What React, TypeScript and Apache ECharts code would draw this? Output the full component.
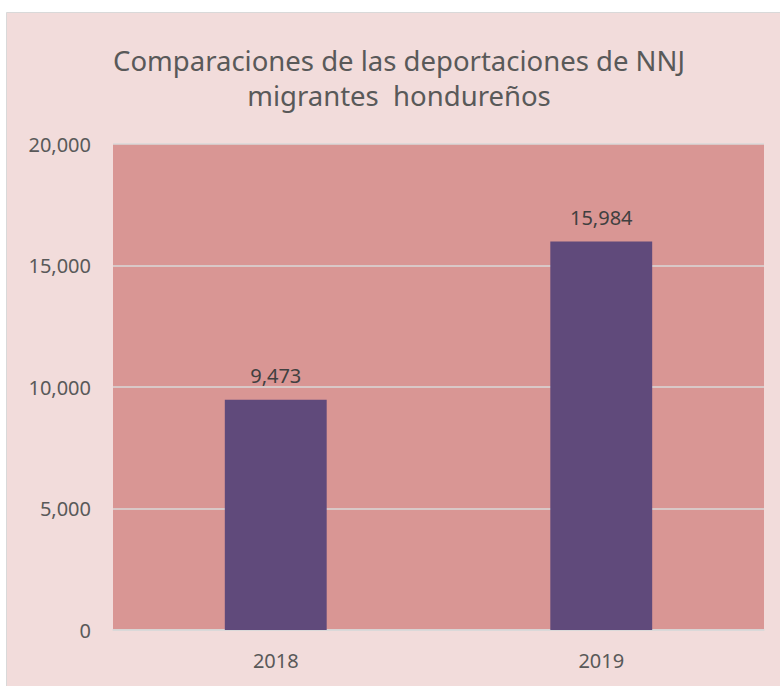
import React, { useEffect, useRef } from "react";
import * as echarts from "echarts";

const categories = ["2018", "2019"];
const deportaciones = [9473, 15984];
const yTicks = { min: 0, max: 20000, interval: 5000 };
const titleText = "Comparaciones de las deportaciones de NNJ\nmigrantes  hondureños";

export default function App() {
  const ref = useRef<HTMLDivElement>(null);
  useEffect(() => {
    const chart = echarts.init(ref.current!, null, { renderer: "svg" });
    const font = "'Noto Sans', 'Open Sans', sans-serif";
    chart.setOption({
      animation: false,
      backgroundColor: "#ffffff",
      graphic: [
        {
          type: "rect",
          shape: { x: 6.5, y: 12.5, width: 790, height: 700 },
          style: { fill: "#F2DCDB", stroke: "#D9D9D9", lineWidth: 1 },
          z: -10,
        },
      ],
      title: {
        text: titleText,
        left: 394,
        top: 38,
        textAlign: "center",
        textStyle: {
          color: "#595959",
          fontSize: 27.5,
          fontWeight: "normal",
          fontFamily: font,
          lineHeight: 35,
        },
      },
      grid: {
        left: 113,
        right: 16,
        top: 144,
        bottom: 56,
        show: true,
        backgroundColor: "#D99694",
        borderWidth: 0,
      },
      xAxis: {
        type: "category",
        data: categories,
        axisTick: { show: false },
        axisLine: { show: true, lineStyle: { color: "#D9D9D9", width: 1.5 } },
        axisLabel: { color: "#595959", fontSize: 20, fontFamily: font, margin: 20 },
      },
      yAxis: {
        type: "value",
        min: yTicks.min,
        max: yTicks.max,
        interval: yTicks.interval,
        axisLine: { show: false },
        axisTick: { show: false },
        splitLine: { lineStyle: { color: "#D9D9D9", width: 1.5 } },
        axisLabel: {
          color: "#595959",
          fontSize: 20,
          fontFamily: font,
          margin: 22,
          formatter: (v: number) => v.toLocaleString("en-US"),
        },
      },
      series: [
        {
          type: "bar",
          data: deportaciones,
          barWidth: "31.3%",
          itemStyle: { color: "#604A7B" },
          label: {
            show: true,
            position: "top",
            distance: 14,
            color: "#404040",
            fontSize: 20,
            fontFamily: font,
            formatter: (p: any) => Number(p.value).toLocaleString("en-US"),
          },
        },
      ],
    });
    return () => chart.dispose();
  }, []);
  return (
    <div
      ref={ref}
      style={{ position: "fixed", left: 0, top: 0, width: 780, height: 686 }}
    />
  );
}
